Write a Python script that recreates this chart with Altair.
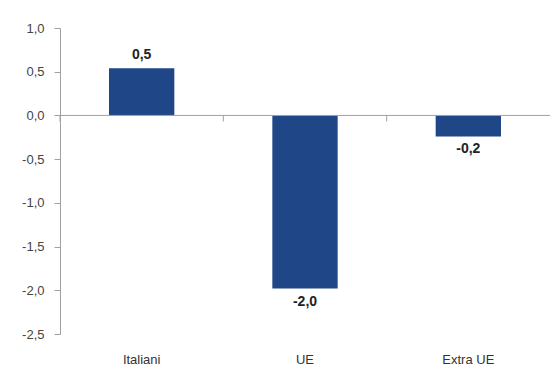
import altair as alt
import pandas as pd

categories = ["Italiani", "UE", "Extra UE"]
values = [0.54, -1.98, -0.24]
value_labels = ["0,5", "-2,0", "-0,2"]
y_ticks = [1.0, 0.5, 0.0, -0.5, -1.0, -1.5, -2.0, -2.5]

df = pd.DataFrame({"cat": categories, "val": values, "lbl": value_labels})
zero_df = pd.DataFrame({"z": [0.0]})

FONT = "Liberation Sans"
BAR = "#1F4788"

xscale = alt.Scale(domain=categories, paddingInner=0.6, paddingOuter=0.3)
yscale = alt.Scale(domain=[-2.5, 1.0], nice=False, zero=False)

x_enc = alt.X("cat:N", scale=xscale, sort=categories,
              axis=alt.Axis(title=None, labelAngle=0, domain=False, ticks=False,
                            labelPadding=19, labelFontSize=13, labelColor="#333333",
                            labelFont=FONT))
y_enc = alt.Y("val:Q", scale=yscale,
              axis=alt.Axis(title=None, values=y_ticks, grid=False,
                            domainColor="#a0a0a0", tickColor="#a0a0a0", tickSize=6,
                            labelPadding=10, labelFontSize=13, labelColor="#444444",
                            labelFont=FONT,
                            labelExpr="replace(replace(format(datum.value, '.1f'), '.', ','), '\u2212', '-')"))

bars = alt.Chart(df).mark_bar(color=BAR).encode(x=x_enc, y=y_enc)

zero_line = alt.Chart(zero_df).mark_rule(color="#a0a0a0", strokeWidth=1).encode(
    y=alt.Y("z:Q", scale=yscale)
)

pos_text = alt.Chart(df).transform_filter("datum.val >= 0").mark_text(
    dy=-13, fontWeight="bold", fontSize=14, font=FONT, color="#222222", baseline="middle"
).encode(x=alt.X("cat:N", scale=xscale, sort=categories), y=alt.Y("val:Q", scale=yscale), text="lbl:N")

neg_text = alt.Chart(df).transform_filter("datum.val < 0").mark_text(
    dy=13, fontWeight="bold", fontSize=14, font=FONT, color="#222222", baseline="middle"
).encode(x=alt.X("cat:N", scale=xscale, sort=categories), y=alt.Y("val:Q", scale=yscale), text="lbl:N")

main = alt.layer(bars, zero_line, pos_text, neg_text)

ticks = alt.Chart(df).mark_rule(color="#a0a0a0", strokeWidth=1).encode(
    x=alt.X("cat:N", sort=categories, bandPosition=0,
            scale=alt.Scale(domain=categories, paddingInner=0, paddingOuter=0), axis=None),
    y=alt.datum(0.0, scale=yscale),
    y2=alt.datum(-0.07),
)

chart = alt.layer(main, ticks).resolve_scale(x="independent").properties(
    width=490, height=306,
    autosize=alt.AutoSizeParams(type="none"),
    padding={"left": 60, "top": 28, "right": 0, "bottom": 33},
    background="white",
).configure_view(stroke=None)

chart.save("out.html", embed_options={"renderer": "svg", "actions": False})
